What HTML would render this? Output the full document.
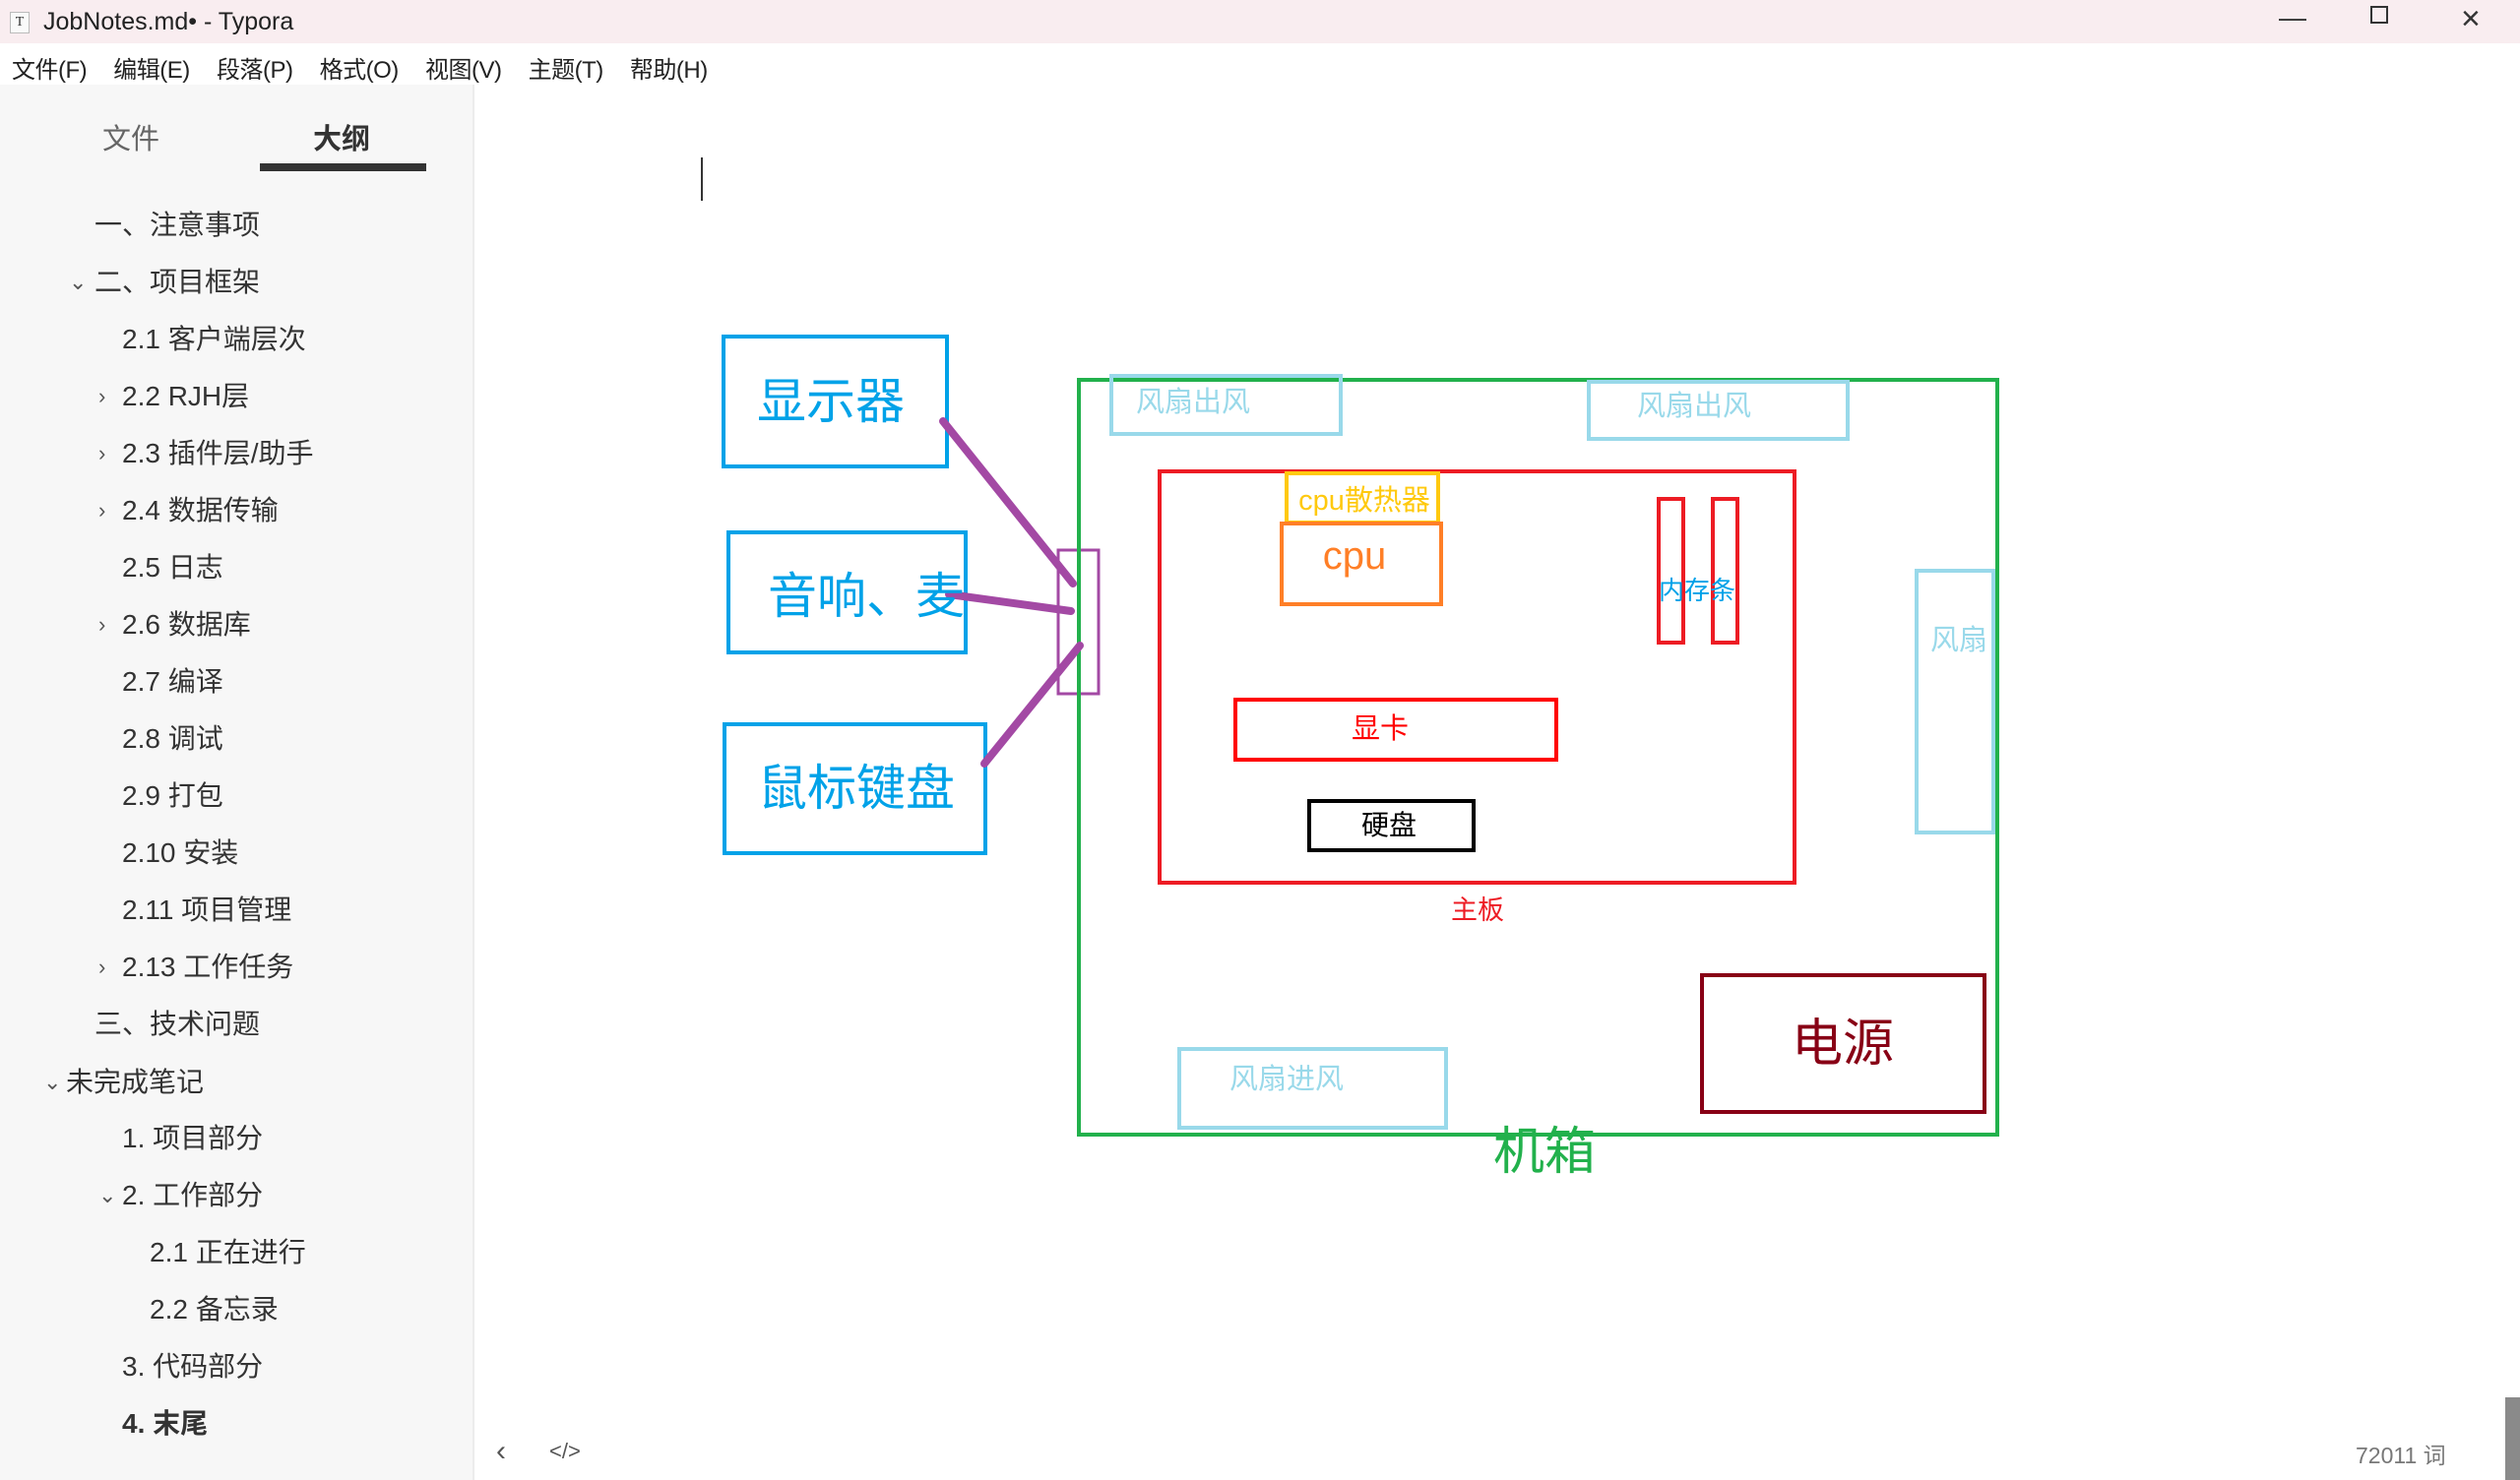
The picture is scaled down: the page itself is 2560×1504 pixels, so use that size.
<!DOCTYPE html>
<html><head><meta charset="utf-8"><style>
*{margin:0;padding:0;box-sizing:border-box}
body{width:2560px;height:1504px;position:relative;background:#fff;overflow:hidden;font-family:"Liberation Sans","Noto Sans CJK SC",sans-serif;color:#333}
.a{position:absolute;white-space:nowrap}
#title{left:0;top:0;width:2560px;height:44px;background:#f9edf0}
#menu{left:0;top:44px;width:2560px;height:42px;background:#fff}
#side{left:0;top:86px;width:482px;height:1418px;background:#f7f7f7;border-right:2px solid #ececec}
.o{position:absolute;font-size:28px;color:#333;line-height:34px;white-space:nowrap}
.c{position:absolute;font-size:22px;color:#555;line-height:34px}
</style></head><body>
<div class="a" id="title"></div>
<div class="a" style="left:10px;top:12px;width:20px;height:22px;border:1px solid #bbb;background:#fafafa;font-size:14px;text-align:center;line-height:20px;font-family:'Liberation Serif',serif">T</div>
<div class="a" style="left:44px;top:8px;font-size:25px;color:#222">JobNotes.md• - Typora</div>
<div class="a" style="left:2315px;top:2px;font-size:28px;color:#333">—</div>
<div class="a" style="left:2408px;top:6px;width:18px;height:18px;border:2px solid #333"></div>
<div class="a" style="left:2500px;top:0px;font-size:34px;color:#333">×</div>
<div class="a" id="menu"></div>
<div class="a" style="left:12px;top:51px;font-size:24px;color:#222;word-spacing:21px;letter-spacing:-0.5px">文件(F) 编辑(E) 段落(P) 格式(O) 视图(V) 主题(T) 帮助(H)</div>
<div class="a" id="side"></div>
<div class="a" style="left:104px;top:118px;font-size:29px;color:#666">文件</div>
<div class="a" style="left:318px;top:118px;font-size:29px;color:#333;font-weight:bold">大纲</div>
<div class="a" style="left:264px;top:166px;width:169px;height:8px;background:#333"></div>

<div class="o" style="left:96px;top:212px">一、注意事项</div>
<div class="c" style="left:70px;top:270px">⌄</div><div class="o" style="left:96px;top:270px">二、项目框架</div>
<div class="o" style="left:124px;top:328px">2.1 客户端层次</div>
<div class="c" style="left:100px;top:386px">›</div><div class="o" style="left:124px;top:386px">2.2 RJH层</div>
<div class="c" style="left:100px;top:444px">›</div><div class="o" style="left:124px;top:444px">2.3 插件层/助手</div>
<div class="c" style="left:100px;top:502px">›</div><div class="o" style="left:124px;top:502px">2.4 数据传输</div>
<div class="o" style="left:124px;top:560px">2.5 日志</div>
<div class="c" style="left:100px;top:618px">›</div><div class="o" style="left:124px;top:618px">2.6 数据库</div>
<div class="o" style="left:124px;top:676px">2.7 编译</div>
<div class="o" style="left:124px;top:734px">2.8 调试</div>
<div class="o" style="left:124px;top:792px">2.9 打包</div>
<div class="o" style="left:124px;top:850px">2.10 安装</div>
<div class="o" style="left:124px;top:908px">2.11 项目管理</div>
<div class="c" style="left:100px;top:966px">›</div><div class="o" style="left:124px;top:966px">2.13 工作任务</div>
<div class="o" style="left:96px;top:1024px">三、技术问题</div>
<div class="c" style="left:44px;top:1083px">⌄</div><div class="o" style="left:67px;top:1083px">未完成笔记</div>
<div class="o" style="left:124px;top:1140px">1. 项目部分</div>
<div class="c" style="left:100px;top:1198px">⌄</div><div class="o" style="left:124px;top:1198px">2. 工作部分</div>
<div class="o" style="left:152px;top:1256px">2.1 正在进行</div>
<div class="o" style="left:152px;top:1314px">2.2 备忘录</div>
<div class="o" style="left:124px;top:1372px">3. 代码部分</div>
<div class="o" style="left:124px;top:1430px;font-weight:bold">4. 末尾</div>

<div class="a" style="left:712px;top:160px;width:2px;height:44px;background:#333"></div>
<div class="a" style="left:504px;top:1458px;font-size:30px;color:#555">‹</div>
<div class="a" style="left:558px;top:1462px;font-size:22px;color:#555">&lt;/&gt;</div>
<div class="a" style="left:2393px;top:1460px;font-size:23px;color:#777">72011 词</div>
<div class="a" style="left:2545px;top:1420px;width:15px;height:84px;background:#8a8a8a"></div>

<svg class="a" style="left:0;top:0" width="2560" height="1504" font-family="Liberation Sans, Noto Sans CJK SC, sans-serif">
<g fill="none" stroke-width="4">
<rect x="735" y="342" width="227" height="132" stroke="#00a2e8"/>
<rect x="740" y="541" width="241" height="122" stroke="#00a2e8"/>
<rect x="736" y="736" width="265" height="131" stroke="#00a2e8"/>
<rect x="1075" y="559" width="41" height="146" stroke="#a349a4" stroke-width="3"/>
<rect x="1096" y="386" width="933" height="767" stroke="#22b14c"/>
<rect x="1129" y="382" width="233" height="59" stroke="#99d9ea"/>
<rect x="1614" y="388" width="263" height="58" stroke="#99d9ea"/>
<rect x="1178" y="479" width="645" height="418" stroke="#ed1c24"/>
<rect x="1307" y="481" width="154" height="50" stroke="#ffc90e"/>
<rect x="1302" y="532" width="162" height="82" stroke="#ff7f27"/>
<rect x="1685" y="507" width="25" height="146" stroke="#ed1c24"/>
<rect x="1740" y="507" width="25" height="146" stroke="#ed1c24"/>
<rect x="1255" y="711" width="326" height="61" stroke="#ff0000"/>
<rect x="1330" y="814" width="167" height="50" stroke="#000"/>
<rect x="1947" y="580" width="78" height="266" stroke="#99d9ea"/>
<rect x="1198" y="1066" width="271" height="80" stroke="#99d9ea"/>
<rect x="1729" y="991" width="287" height="139" stroke="#880015"/>
<g stroke="#a349a4" stroke-width="8" stroke-linecap="round">
<line x1="958" y1="428" x2="1090" y2="593"/>
<line x1="964" y1="604" x2="1088" y2="621"/>
<line x1="1000" y1="776" x2="1097" y2="656"/>
</g></g>
<g text-anchor="middle">
<text x="844" y="425" font-size="50" fill="#00a2e8">显示器</text>
<text x="880" y="623" font-size="50" fill="#00a2e8">音响、麦</text>
<text x="870" y="818" font-size="50" fill="#00a2e8">鼠标键盘</text>
<text x="1212" y="418" font-size="29" fill="#99d9ea">风扇出风</text>
<text x="1721" y="422" font-size="29" fill="#99d9ea">风扇出风</text>
<text x="1386" y="518" font-size="29" fill="#ffc90e">cpu散热器</text>
<text x="1376" y="578" font-size="40" fill="#ff7f27">cpu</text>
<text x="1724" y="609" font-size="26" fill="#00a2e8">内存条</text>
<text x="1402" y="750" font-size="29" fill="#ff0000">显卡</text>
<text x="1411" y="848" font-size="28" fill="#000">硬盘</text>
<text x="1501" y="934" font-size="27" fill="#ed1c24">主板</text>
<text x="1990" y="660" font-size="29" fill="#99d9ea">风扇</text>
<text x="1307" y="1106" font-size="29" fill="#99d9ea">风扇进风</text>
<text x="1872" y="1078" font-size="52" fill="#880015">电源</text>
<text x="1569" y="1188" font-size="52" fill="#22b14c">机箱</text>
</g></svg>
</body></html>
